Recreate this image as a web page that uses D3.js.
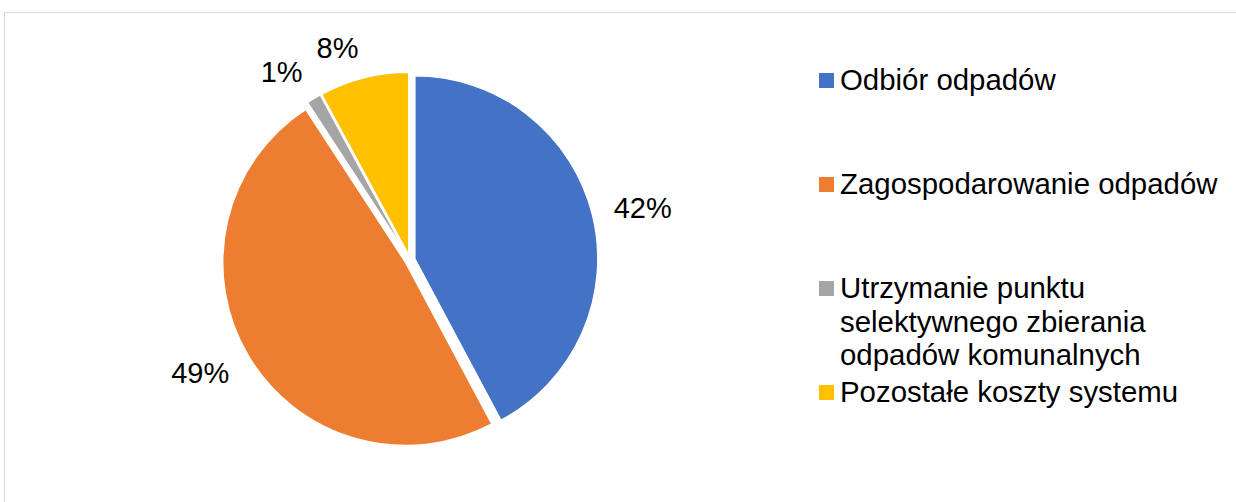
<!DOCTYPE html>
<html>
<head>
<meta charset="utf-8">
<script src="https://cdn.jsdelivr.net/npm/d3@7"></script>
<style>
body { margin: 0; background: #fff; }
svg text { font-family: "Liberation Sans", Arial, sans-serif; fill: #000; }
</style>
</head>
<body>
<div id="chart"></div>
<script>
var categories = ["Odbiór odpadów", "Zagospodarowanie odpadów",
    "Utrzymanie punktu selektywnego zbierania odpadów komunalnych",
    "Pozostałe koszty systemu"];
var legendLines = [["Odbiór odpadów"], ["Zagospodarowanie odpadów"],
    ["Utrzymanie punktu", "selektywnego zbierania", "odpadów komunalnych"],
    ["Pozostałe koszty systemu"]];
var values = [42.2, 48.6, 1.3, 7.9];
var labels = ["42%", "49%", "1%", "8%"];
var colors = ["#4472C4", "#ED7D31", "#A5A5A5", "#FFC000"];

var w = 1236, h = 502;
var cx = 410, cy = 260, r = 183;
var explode = 5;
var labelR = 205;

var svg = d3.select("#chart")
    .append("svg")
    .attr("width", w)
    .attr("height", h);

// chart area border
svg.append("rect")
    .attr("x", 4.5)
    .attr("y", 12.5)
    .attr("width", 1400)
    .attr("height", 700)
    .attr("fill", "none")
    .attr("stroke", "#d9d9d9")
    .attr("stroke-width", 1);

var pie = d3.pie().sort(null).value(function (d) { return d; });
var arcs = pie(values);
var arc = d3.arc().innerRadius(0).outerRadius(r);

function mid(d) { return (d.startAngle + d.endAngle) / 2; }

var g = svg.append("g").attr("transform", "translate(" + cx + "," + cy + ")");

g.selectAll("path")
    .data(arcs)
    .enter()
    .append("path")
    .attr("d", arc)
    .attr("transform", function (d) {
        var a = mid(d);
        return "translate(" + (Math.sin(a) * explode) + "," + (-Math.cos(a) * explode) + ")";
    })
    .attr("fill", function (d, i) { return colors[i]; })
    .attr("stroke", "#fff")
    .attr("stroke-width", 1.5);

// data labels, outside end
g.selectAll("text.lbl")
    .data(arcs)
    .enter()
    .append("text")
    .attr("class", "lbl")
    .text(function (d, i) { return labels[i]; })
    .attr("font-size", "29px")
    .attr("text-anchor", function (d) { return Math.sin(mid(d)) >= 0 ? "start" : "end"; })
    .attr("x", function (d) { return Math.sin(mid(d)) * (explode + labelR); })
    .attr("y", function (d) {
        var dy = -Math.cos(mid(d));
        return dy * (explode + labelR) + 11 + 10 * dy;
    });

// legend
var ly = d3.scalePoint().domain(categories).range([90, 402]);

var leg = svg.selectAll("g.leg")
    .data(categories)
    .enter()
    .append("g")
    .attr("class", "leg")
    .attr("transform", function (d) { return "translate(819," + ly(d) + ")"; });

leg.append("rect")
    .attr("x", 0)
    .attr("y", -17)
    .attr("width", 15)
    .attr("height", 15)
    .attr("fill", function (d, i) { return colors[i]; });

leg.append("text")
    .attr("x", 21)
    .attr("font-size", "29.4px")
    .selectAll("tspan")
    .data(function (d, i) { return legendLines[i]; })
    .enter()
    .append("tspan")
    .attr("x", 21)
    .attr("dy", function (d, i) { return i === 0 ? 0 : 33.5; })
    .text(function (d) { return d; });
</script>
</body>
</html>
